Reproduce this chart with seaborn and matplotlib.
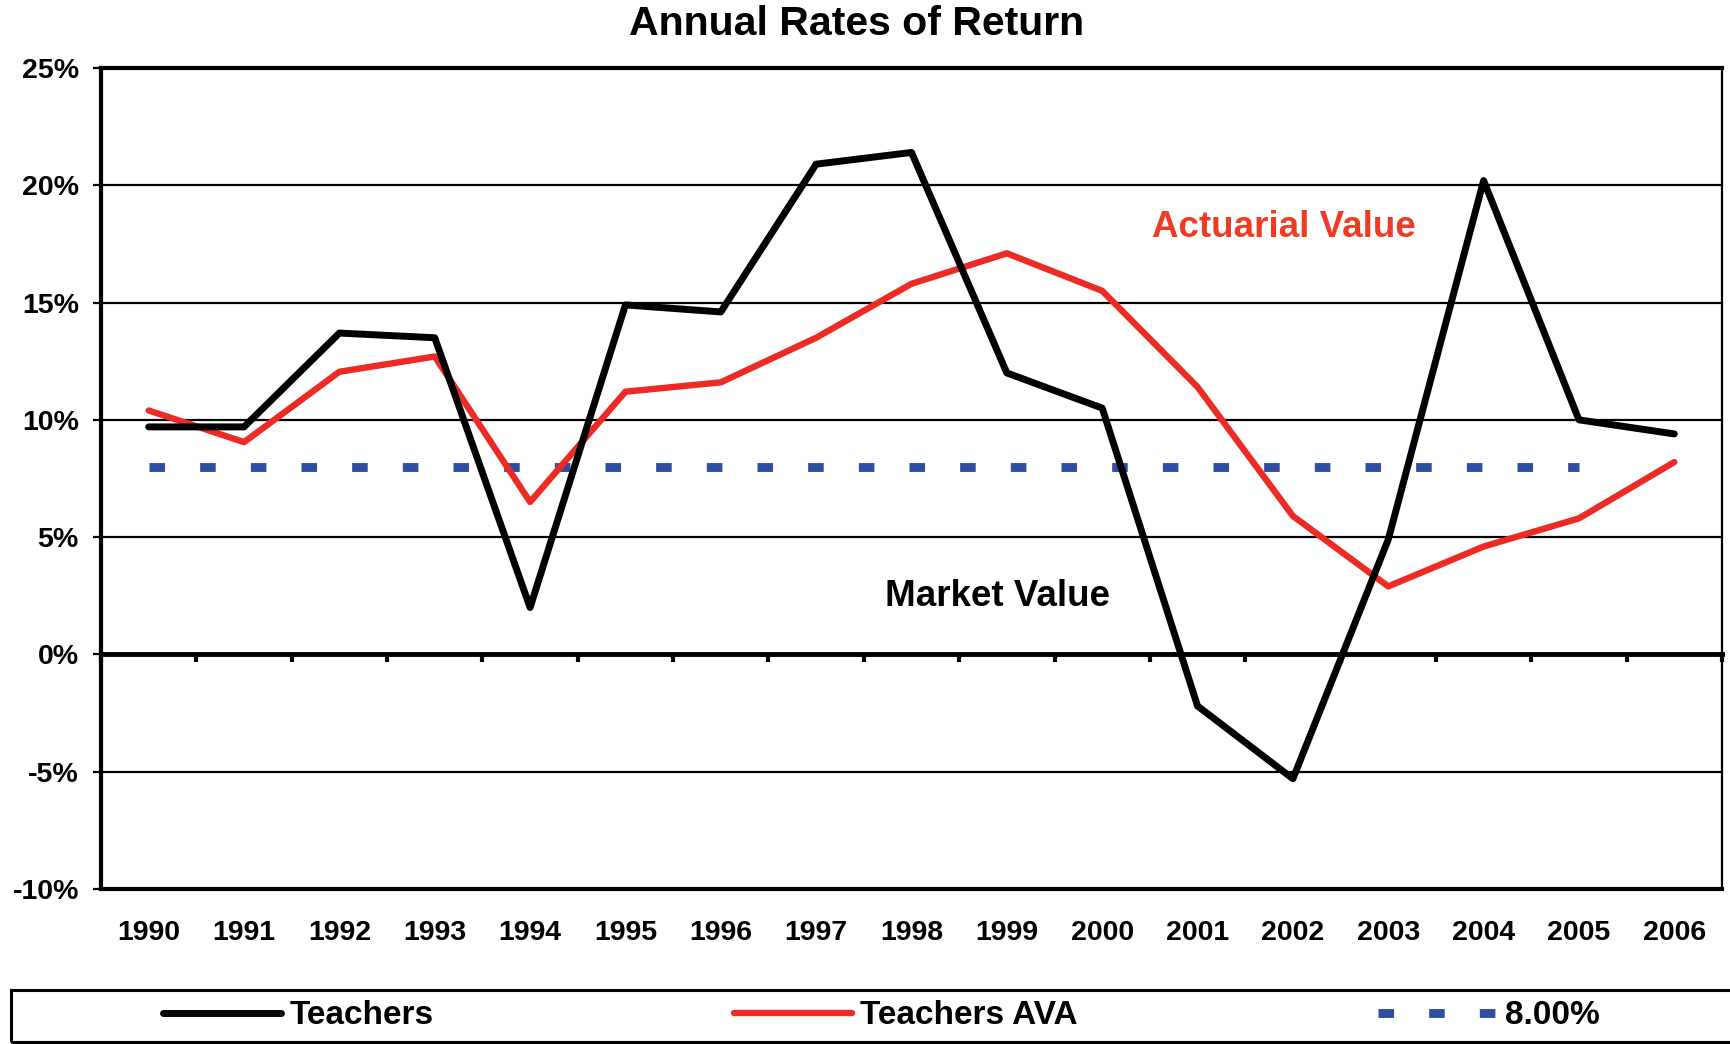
import matplotlib
matplotlib.use("Agg")
import matplotlib.pyplot as plt
import seaborn as sns
import pandas as pd
import numpy as np
from matplotlib.ticker import FixedLocator, FuncFormatter
from matplotlib.patches import Rectangle

years = [str(y) for y in range(1990, 2007)]
teachers = [9.7, 9.7, 13.7, 13.5, 2.0, 14.9, 14.6, 20.9, 21.4, 12.0, 10.5,
            -2.2, -5.3, 4.9, 20.2, 10.0, 9.4]
teachers_ava = [10.4, 9.05, 12.05, 12.7, 6.5, 11.2, 11.6, 13.5, 15.8, 17.1,
                15.5, 11.4, 5.9, 2.9, 4.6, 5.8, 8.2]
target_years = [str(y) for y in range(1990, 2006)]
target = [8.0, 8.0, 8.0, 8.0, 8.0, 8.0, 8.0, 8.0, 8.0, 8.0, 8.0, 8.0, 8.0, 8.0, 8.0, 8.0]
y_ticks = [-10, -5, 0, 5, 10, 15, 20, 25]

sns.set_style("white")
plt.rcParams['font.family'] = ['Liberation Sans', 'DejaVu Sans']
plt.rcParams['font.weight'] = 'bold'
plt.rcParams['text.color'] = 'black'
plt.rcParams['xtick.color'] = 'black'
plt.rcParams['ytick.color'] = 'black'

BLACK = "#000000"
RED = "#ee2a24"
BLUE = "#2f4da0"

fig = plt.figure(figsize=(17.30, 10.44), dpi=100)
ax = fig.add_axes([101/1730, 1 - 889/1044, (1722-101)/1730, (889-68)/1044])

df1 = pd.DataFrame({"year": years, "value": teachers})
df2 = pd.DataFrame({"year": years, "value": teachers_ava})
df3 = pd.DataFrame({"year": target_years, "value": target})

for lvl in [-5, 5, 10, 15, 20]:
    ax.axhline(lvl, color="black", lw=1.6, zorder=1)

sns.lineplot(data=df3, x="year", y="value", ax=ax, color=BLUE, lw=6.4,
             zorder=3, label="8.00%")
ax.lines[-1].set_dashes([1.75, 3.95])
ax.lines[-1].set_dash_capstyle('butt')
sns.lineplot(data=df1, x="year", y="value", ax=ax, color=BLACK, lw=5.0,
             zorder=5, label="Teachers")
ax.lines[-1].set_solid_capstyle('round')
sns.lineplot(data=df2, x="year", y="value", ax=ax, color=RED, lw=4.6,
             zorder=4, label="Teachers AVA")
ax.lines[-1].set_solid_capstyle('round')

ax.set_xlim(-0.5, len(years) - 0.5)
ax.set_ylim(-10, 25)
ax.set_xlabel("")
ax.set_ylabel("")
ax.yaxis.set_major_locator(FixedLocator(y_ticks))
ax.yaxis.set_major_formatter(FuncFormatter(lambda v, p: f"{int(v)}%"))
ax.set_xticks(range(len(years)))
ax.set_xticklabels(years)
ax.tick_params(axis='x', length=0, pad=22, labelsize=20.5)
ax.tick_params(axis='y', length=6, width=1.6, direction='out', left=True,
               pad=10, labelsize=20.5)
for lab in ax.get_xticklabels() + ax.get_yticklabels():
    lab.set_fontweight('bold')

for side, lw in [('left', 3.0), ('top', 3.0), ('bottom', 3.0), ('right', 1.6)]:
    ax.spines[side].set_visible(True)
    ax.spines[side].set_color('black')
    ax.spines[side].set_linewidth(lw)

# zero line with tick marks at category boundaries
sec = ax.secondary_xaxis(10/35)
sec.set_xticks(np.arange(-0.5, len(years), 1.0))
sec.set_xticklabels([])
sec.tick_params(axis='x', length=6, width=3.0, direction='out')
sec.spines['bottom'].set_linewidth(3.5)
sec.spines['bottom'].set_color('black')

ax.text(11.9, 18.2, "Actuarial Value", color="#ef3b23", fontsize=26.5,
        fontweight='bold', ha='center', va='center', zorder=6)
ax.text(8.9, 2.45, "Market Value", color="black", fontsize=26.5,
        fontweight='bold', ha='center', va='center', zorder=6)

fig.suptitle("Annual Rates of Return", x=0.495, y=1 - 24/1044, va='center',
             fontsize=29.5, fontweight='bold', color='black')

# legend frame
fig.patches.append(Rectangle((11/1730, 1 - 1042/1044), 1.1, (1042-990)/1044,
                             transform=fig.transFigure, fill=False,
                             edgecolor='black', lw=2.2, zorder=0))

handles, labels = ax.get_legend_handles_labels()
order = [labels.index("Teachers"), labels.index("Teachers AVA"), labels.index("8.00%")]
ax.legend_.remove()
leg = fig.legend([handles[i] for i in order], [labels[i] for i in order],
                 loc='center left', bbox_to_anchor=(163/1730, 1 - 1016/1044),
                 ncol=3, frameon=False, handlelength=3.55, handletextpad=0.25,
                 columnspacing=9.0, prop={'weight': 'bold', 'size': 24},
                 borderaxespad=0, borderpad=0)

fig.savefig("out.png", dpi=100)
